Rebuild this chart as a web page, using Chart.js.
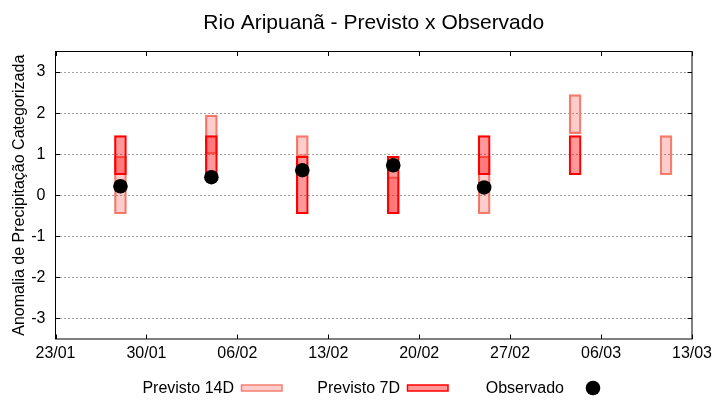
<!DOCTYPE html>
<html><head><meta charset="utf-8">
<script src="https://cdn.jsdelivr.net/npm/chart.js@4.4.0/dist/chart.umd.min.js"></script>
<style>html,body{margin:0;padding:0;background:#fff}</style>
</head><body>
<canvas id="c" width="720" height="400" style="width:720px;height:400px"></canvas>
<script>
// ---- data ----
const startDate = '23/01';
const xTickLabels = ['23/01','30/01','06/02','13/02','20/02','27/02','06/03','13/03'];
const yTickValues = [-3,-2,-1,0,1,2,3];
const prev14Dates = ['28/01','04/02','11/02','18/02','25/02','04/03','11/03'];
const prev14Low  = [-0.45, 1.0, 0.95, -0.45, -0.45, 1.5, 0.5];
const prev14High = [0.95, 1.95, 1.45, 0.45, 0.95, 2.45, 1.45];
const prev7Dates = ['28/01','04/02','11/02','18/02','25/02','04/03'];
const prev7Low  = [0.5, 0.5, -0.45, -0.45, 0.5, 0.5];
const prev7High = [1.45, 1.45, 0.95, 0.95, 1.45, 1.45];
const obsDates  = ['28/01','04/02','11/02','18/02','25/02'];
const obsValues = [0.22, 0.44, 0.61, 0.73, 0.19];

const titleText = 'Rio Aripuanã - Previsto x Observado';
const yTitle = 'Anomalia de Precipitação Categorizada';
const legendLabels = ['Previsto 14D', 'Previsto 7D', 'Observado'];

// ---- helpers ----
const monthStart = [0,31,59,90,120,151,181,212,243,273,304,334];
function dayOfYear(s){ const [d,m] = s.split('/').map(Number); return monthStart[m-1] + d; }
function dayOffset(s){ return dayOfYear(s) - dayOfYear(startDate); }

const FONT = "'Liberation Sans', Arial, sans-serif";
const C14_FILL = 'rgba(255,0,0,0.2)', C14_BORDER = '#f4806f';
const C7_FILL = 'rgba(255,0,0,0.4)', C7_BORDER = '#ff0000';

const framePlugin = {
  id: 'frame',
  afterDraw(chart){
    const ctx = chart.ctx, ca = chart.chartArea;
    const xs = chart.scales.x, ys = chart.scales.y;
    ctx.save();
    // title centred over the plot area
    ctx.font = '21px ' + FONT;
    ctx.fillStyle = '#000';
    ctx.textAlign = 'center';
    ctx.textBaseline = 'alphabetic';
    ctx.fillText(titleText, (ca.left + ca.right) / 2, 28.5);

    ctx.strokeStyle = '#000'; ctx.lineWidth = 1;
    ctx.strokeRect(ca.left, ca.top, ca.right - ca.left, ca.bottom - ca.top);
    const tl = 4.5;
    ctx.beginPath();
    yTickValues.forEach(v => {
      const p = Math.round(ys.getPixelForValue(v)) + 0.5;
      ctx.moveTo(ca.left, p); ctx.lineTo(ca.left + tl, p);
      ctx.moveTo(ca.right, p); ctx.lineTo(ca.right - tl, p);
    });
    xTickLabels.forEach(l => {
      const p = Math.round(xs.getPixelForValue(dayOffset(l))) + 0.5;
      ctx.moveTo(p, ca.bottom); ctx.lineTo(p, ca.bottom - tl);
      ctx.moveTo(p, ca.top); ctx.lineTo(p, ca.top + tl);
    });
    ctx.stroke();

    // legend (gnuplot style: text then sample)
    ctx.font = '16px ' + FONT;
    ctx.fillStyle = '#000';
    ctx.textAlign = 'right';
    const by = 392.5;
    ctx.fillText(legendLabels[0], 234, by);
    ctx.fillText(legendLabels[1], 400, by);
    ctx.fillText(legendLabels[2], 564, by);
    ctx.lineWidth = 1.5;
    ctx.fillStyle = C14_FILL; ctx.fillRect(241.5, 385, 40.5, 6);
    ctx.strokeStyle = C14_BORDER; ctx.strokeRect(241.5, 385, 40.5, 6);
    ctx.fillStyle = C7_FILL; ctx.fillRect(407.5, 385, 40.5, 6);
    ctx.strokeStyle = C7_BORDER; ctx.strokeRect(407.5, 385, 40.5, 6);
    ctx.fillStyle = '#000';
    ctx.beginPath(); ctx.arc(593, 388, 7.3, 0, Math.PI*2); ctx.fill();
    ctx.restore();
  }
};

new Chart(document.getElementById('c'), {
  type: 'bar',
  data: {
    datasets: [
      {
        type: 'scatter',
        label: legendLabels[2],
        data: obsDates.map((d,i) => ({x: dayOffset(d), y: obsValues[i]})),
        backgroundColor: '#000', borderColor: '#000', borderWidth: 0,
        pointRadius: 7.3, pointHoverRadius: 7.3, order: 0
      },
      {
        label: legendLabels[1],
        data: prev7Dates.map((d,i) => ({x: dayOffset(d), y: [prev7Low[i], prev7High[i]]})),
        backgroundColor: C7_FILL, borderColor: C7_BORDER, borderWidth: 1.5,
        borderSkipped: false, barThickness: 12, grouped: false, order: 1
      },
      {
        label: legendLabels[0],
        data: prev14Dates.map((d,i) => ({x: dayOffset(d), y: [prev14Low[i], prev14High[i]]})),
        backgroundColor: C14_FILL, borderColor: C14_BORDER, borderWidth: 1.5,
        borderSkipped: false, barThickness: 12, grouped: false, order: 2
      }
    ]
  },
  options: {
    responsive: false, animation: false, devicePixelRatio: 1,
    layout: { padding: { left: 0, right: 28, top: 51.5, bottom: 0 } },
    plugins: {
      legend: { display: false },
      tooltip: { enabled: false },
      title: { display: false }
    },
    scales: {
      x: {
        type: 'linear', offset: false,
        min: 0, max: dayOffset(xTickLabels[xTickLabels.length-1]),
        afterBuildTicks(s){ s.ticks = xTickLabels.map(l => ({value: dayOffset(l)})); },
        afterFit(s){ s.height = 61; },
        ticks: {
          callback: (v, i) => xTickLabels[i],
          color: '#000', padding: 5, maxRotation: 0, autoSkip: false,
          font: { family: FONT, size: 16 }
        },
        grid: { display: false, drawTicks: false },
        border: { display: false }
      },
      y: {
        min: -3.5, max: 3.5,
        afterBuildTicks(s){ s.ticks = yTickValues.map(v => ({value: v})); },
        afterFit(s){ s.width = 55.5; },
        ticks: {
          callback: v => String(v), color: '#000', padding: 10,
          font: { family: FONT, size: 16 }
        },
        grid: { color: '#a0a0a0', lineWidth: 1, drawTicks: false, tickLength: 0 },
        border: { display: false, dash: [2,2] },
        title: {
          display: true, text: yTitle, color: '#000',
          font: { family: FONT, size: 16 }, padding: { top: 10.4, bottom: 0 }
        }
      }
    }
  },
  plugins: [framePlugin]
});
</script>
</body></html>
